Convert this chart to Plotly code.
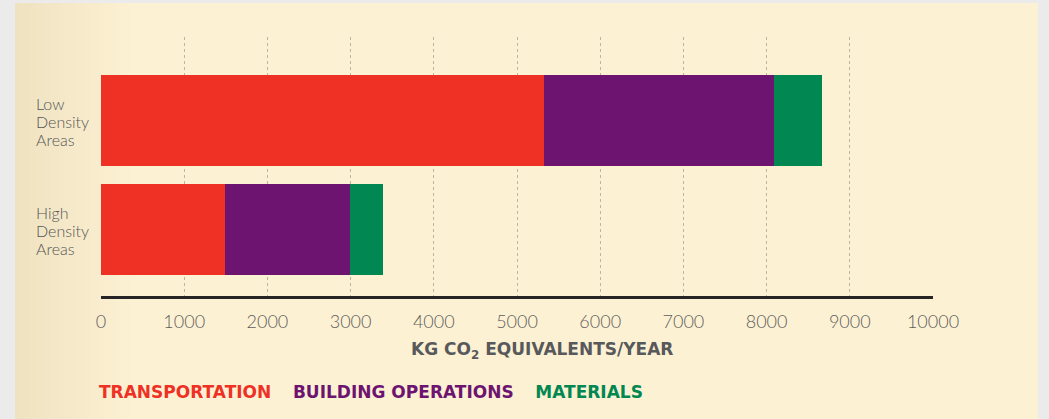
import plotly.graph_objects as go

# ---- data ----
categories = ["High<br>Density<br>Areas", "Low<br>Density<br>Areas"]
series_names = ["TRANSPORTATION", "BUILDING OPERATIONS", "MATERIALS"]
transportation = [1490, 5325]
building_operations = [1503, 2764]
materials = [396, 577]
series_values = [transportation, building_operations, materials]
series_colors = ["#ee3124", "#6d1470", "#008752"]
tick_values = [0, 1000, 2000, 3000, 4000, 5000, 6000, 7000, 8000, 9000, 10000]
tick_labels = ["0", "1000", "2000", "3000", "4000", "5000", "6000", "7000", "8000", "9000", "10000"]
x_title = "KG CO<sub>2</sub> EQUIVALENTS/YEAR"

W, H = 1049, 419
ML, MR, MT, MB = 101, 116, 37, 123
PW, PH = W - ML - MR, H - MT - MB

def px_to_paper_x(px):
    return (px - ML) / PW

def px_to_paper_y(py):
    return (H - MB - py) / PH

fig = go.Figure()
for name, vals, col in zip(series_names, series_values, series_colors):
    fig.add_trace(go.Bar(
        y=categories, x=vals, name=name, orientation="h",
        marker=dict(color=col, line=dict(width=0)), width=0.835,
    ))

shapes = []
card_l, card_r, card_t = 15, 1038, 3
shapes.append(dict(type="rect", xref="paper", yref="paper", layer="below",
                   x0=px_to_paper_x(card_l), x1=px_to_paper_x(card_r),
                   y0=px_to_paper_y(H), y1=px_to_paper_y(card_t),
                   fillcolor="#fdf1d3", line=dict(width=0)))
c0 = (238, 226, 193)
c1 = (253, 241, 211)
steps = 24
g_start, g_end = card_l, 135
for i in range(steps):
    t = i / (steps - 1)
    col = tuple(round(c0[k] + (c1[k] - c0[k]) * t) for k in range(3))
    xa = g_start + (g_end - g_start) * i / steps
    xb = g_start + (g_end - g_start) * (i + 1) / steps
    shapes.append(dict(type="rect", xref="paper", yref="paper", layer="below",
                       x0=px_to_paper_x(xa), x1=px_to_paper_x(xb) + 0.001,
                       y0=px_to_paper_y(H), y1=px_to_paper_y(card_t),
                       fillcolor="rgb(%d,%d,%d)" % col, line=dict(width=0)))

annotations = []
line_pitch = 18
for cat in categories:
    lines = cat.split("<br>")
    n = len(lines)
    for i, ln in enumerate(lines):
        annotations.append(dict(
            x=px_to_paper_x(34), xref="paper", y=cat, yref="y",
            yshift=((n - 1) / 2 - i) * line_pitch - 1,
            text=ln, showarrow=False, xanchor="left", yanchor="middle", align="left",
            font=dict(family="Lato Light, Lato", size=16, color="#555555"),
        ))

annotations.append(dict(
    x=px_to_paper_x(542), xref="paper", y=px_to_paper_y(350), yref="paper",
    text="<b>" + x_title + "</b>", showarrow=False, xanchor="center", yanchor="middle",
    font=dict(family="DejaVu Sans", size=17, color="#58595b"),
))

legend_text = "&nbsp;&nbsp;&nbsp;&nbsp;".join(
    "<span style='color:%s'><b>%s</b></span>" % (c, n) for n, c in zip(series_names, series_colors)
)
annotations.append(dict(
    x=px_to_paper_x(97), xref="paper", y=px_to_paper_y(392), yref="paper",
    text=legend_text, showarrow=False, xanchor="left", yanchor="middle",
    font=dict(family="DejaVu Sans", size=17, color="#000"),
))

fig.update_layout(
    width=W, height=H, barmode="stack",
    margin=dict(l=ML, r=MR, t=MT, b=MB, pad=0),
    paper_bgcolor="#ebebeb", plot_bgcolor="rgba(0,0,0,0)",
    showlegend=False, shapes=shapes, annotations=annotations,
    xaxis=dict(
        range=[0, 10000], tickvals=tick_values, ticktext=tick_labels,
        showgrid=True, gridcolor="#bdb4a2", griddash="dot", gridwidth=1,
        zeroline=False, showline=True, linecolor="#262424", linewidth=3,
        ticks="", ticklabelstandoff=7,
        tickfont=dict(family="Lato Light, Lato", size=18, color="#5e5e5e"),
        fixedrange=True,
    ),
    yaxis=dict(
        type="category", range=[-0.61, 1.766], showticklabels=False,
        showgrid=False, zeroline=False, showline=False, fixedrange=True,
    ),
)

fig.write_html("out.html", config={"displayModeBar": False},
               post_script="document.body.style.margin='0';document.body.style.padding='0';")
